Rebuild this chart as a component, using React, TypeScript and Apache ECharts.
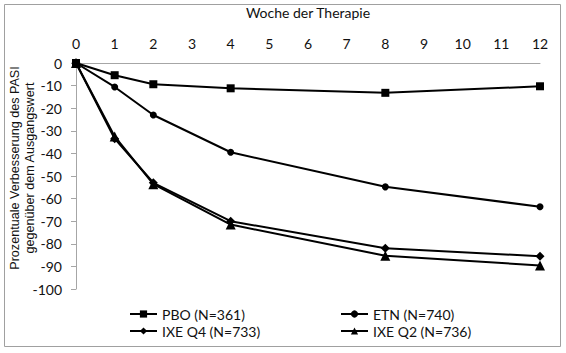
import React, { useEffect, useRef } from "react";
import * as echarts from "echarts";

const weeks = [0, 1, 2, 4, 8, 12];
const seriesNames = ["PBO (N=361)", "ETN (N=740)", "IXE Q4 (N=733)", "IXE Q2 (N=736)"];
const pbo = [0, -5.4, -9.4, -11.2, -13.2, -10.3];
const etn = [0, -10.6, -23.0, -39.5, -54.8, -63.6];
const ixeQ4 = [0, -33.5, -53.0, -70.0, -82.0, -85.5];
const ixeQ2 = [0, -32.5, -53.6, -71.5, -85.3, -89.6];
const symbols = ["rect", "circle", "diamond", "triangle"];
const symbolSizes = [8, 7, 9, 10];
const yTitleLines = ["Prozentuale Verbesserung des PASI", "gegenüber dem Ausgangswert"];
const xTitle = "Woche der Therapie";

export default function App() {
  const ref = useRef<HTMLDivElement>(null);
  useEffect(() => {
    if (!ref.current) return;
    const chart = echarts.init(ref.current, null, { renderer: "svg" });
    const all = [pbo, etn, ixeQ4, ixeQ2];
    const font = "Lato, 'Open Sans', sans-serif";
    const arial = "'Liberation Sans', Arial, sans-serif";
    chart.setOption({
      animation: false,
      backgroundColor: "#fff",
      textStyle: { fontFamily: font, color: "#111" },
      grid: { left: 76, right: 26, top: 59, bottom: 64 },
      xAxis: {
        type: "value",
        position: "top",
        min: 0,
        max: 12,
        interval: 1,
        name: xTitle,
        nameLocation: "middle",
        nameGap: 44,
        nameTextStyle: { fontFamily: font, fontSize: 14, color: "#111" },
        axisLine: { show: true, lineStyle: { color: "#a6a6a6", width: 1 } },
        axisTick: { show: false },
        splitLine: { show: false },
        axisLabel: { fontFamily: font, fontSize: 14, color: "#111", margin: 13 },
      },
      yAxis: {
        type: "value",
        min: -100,
        max: 0,
        interval: 10,
        axisLine: { show: true, onZero: false, lineStyle: { color: "#a6a6a6", width: 1 } },
        axisTick: { show: true, inside: false, length: 5, lineStyle: { color: "#a6a6a6" } },
        splitLine: { show: false },
        axisLabel: { fontFamily: font, fontSize: 14, color: "#111", margin: 14 },
      },
      legend: [
        {
          orient: "vertical",
          left: 124,
          top: 302,
          itemWidth: 27,
          itemHeight: 9,
          itemGap: 3,
          data: [seriesNames[0], seriesNames[2]],
          textStyle: { fontFamily: font, fontSize: 14, color: "#111" },
        },
        {
          orient: "vertical",
          left: 335,
          top: 302,
          itemWidth: 27,
          itemHeight: 9,
          itemGap: 3,
          data: [seriesNames[1], seriesNames[3]],
          textStyle: { fontFamily: font, fontSize: 14, color: "#111" },
        },
      ],
      graphic: [
        {
          type: "rect",
          shape: { x: 4.5, y: 4.5, width: 556, height: 342 },
          style: { fill: "none", stroke: "#a0a0a0", lineWidth: 1 },
          silent: true,
        },
        {
          type: "text",
          x: 15,
          y: 168,
          rotation: Math.PI / 2,
          style: {
            text: yTitleLines[0],
            fontFamily: arial,
            fontSize: 12.6,
            fill: "#111",
            align: "center",
            verticalAlign: "middle",
          },
        },
        {
          type: "text",
          x: 30,
          y: 168,
          rotation: Math.PI / 2,
          style: {
            text: yTitleLines[1],
            fontFamily: arial,
            fontSize: 12.6,
            fill: "#111",
            align: "center",
            verticalAlign: "middle",
          },
        },
      ],
      series: all.map((vals, i) => ({
        name: seriesNames[i],
        type: "line",
        data: weeks.map((w, j) => [w, vals[j]]),
        symbol: symbols[i],
        symbolSize: symbolSizes[i],
        showAllSymbol: true,
        lineStyle: { color: "#000", width: 2 },
        itemStyle: { color: "#000" },
        z: 2 + i,
      })),
    });
    return () => chart.dispose();
  }, []);
  return (
    <div
      ref={ref}
      style={{ position: "fixed", left: 0, top: 0, width: 566, height: 353 }}
    />
  );
}
